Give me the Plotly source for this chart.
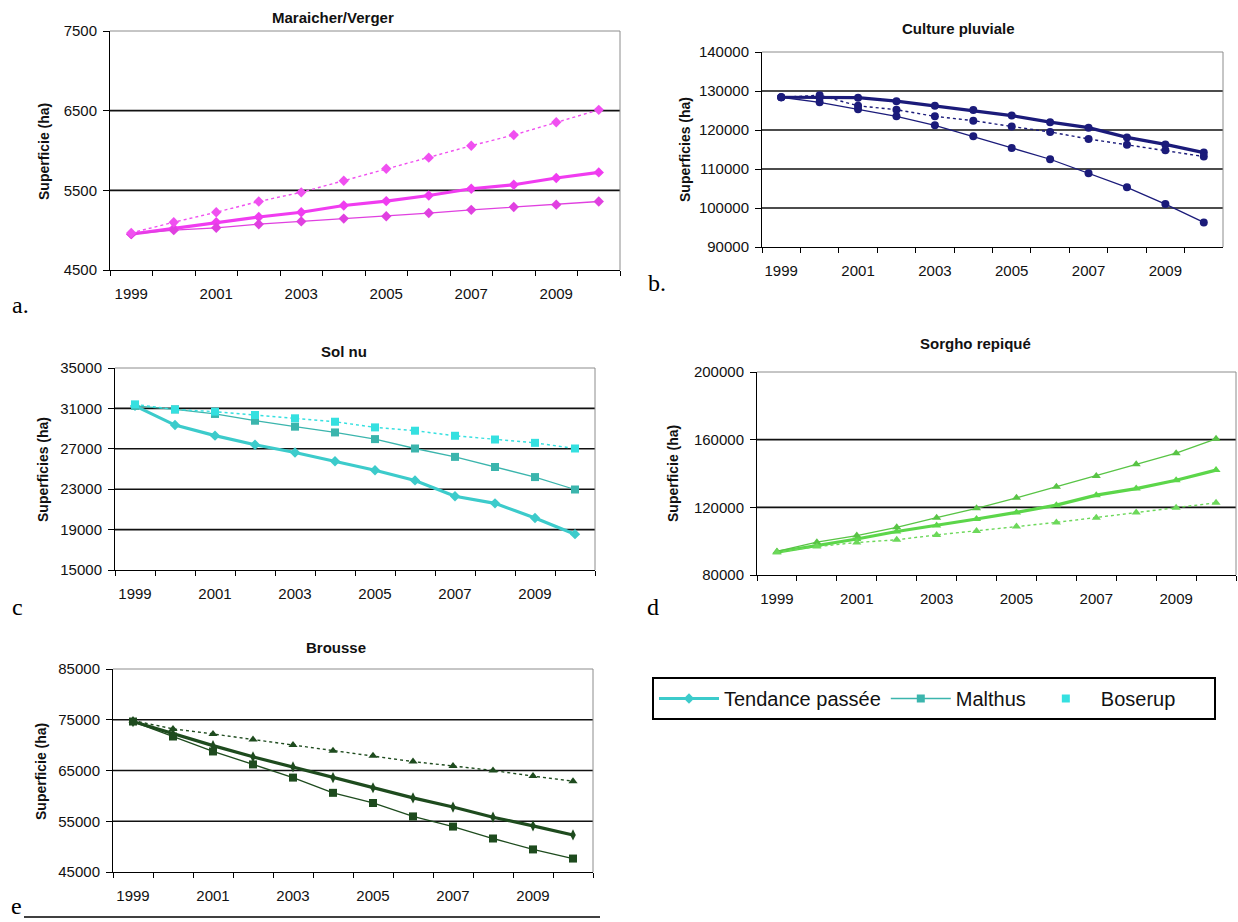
import plotly.graph_objects as go

# ---------------- data ----------------
years = ["1999", "2000", "2001", "2002", "2003", "2004", "2005", "2006", "2007", "2008", "2009", "2010"]
year_labels = ["1999", "", "2001", "", "2003", "", "2005", "", "2007", "", "2009", ""]

# a. Maraicher/Verger
a_tendance = [4950, 5020, 5100, 5165, 5225, 5310, 5365, 5435, 5520, 5570, 5655, 5725]
a_malthus = [4950, 5000, 5030, 5075, 5110, 5145, 5175, 5215, 5255, 5290, 5320, 5360]
a_boserup = [4965, 5100, 5225, 5360, 5475, 5620, 5770, 5910, 6060, 6195, 6355, 6510]

# b. Culture pluviale
b_tendance = [128400, 128300, 128300, 127400, 126200, 125100, 123700, 122000, 120600, 118100, 116300, 114200]
b_malthus = [128400, 127100, 125300, 123500, 121200, 118400, 115400, 112500, 108900, 105300, 101000, 96300]
b_boserup = [128400, 128900, 126200, 125200, 123500, 122400, 120900, 119500, 117700, 116200, 114800, 113200]

# c. Sol nu
c_tendance = [31250, 29350, 28300, 27400, 26630, 25760, 24870, 23870, 22300, 21600, 20150, 18550]
c_malthus = [31250, 30900, 30450, 29780, 29190, 28620, 27960, 27030, 26200, 25200, 24200, 22970]
c_boserup = [31400, 30900, 30680, 30350, 30020, 29680, 29120, 28790, 28290, 27920, 27590, 27030]

# d. Sorgho repiqué
d_tendance = [93500, 97400, 101300, 105700, 109200, 113100, 117000, 121300, 127200, 131100, 136000, 142000]
d_malthus = [93900, 99400, 103300, 108200, 113900, 119400, 125600, 132100, 138500, 145400, 152000, 160500]
d_boserup = [93500, 96800, 99200, 100800, 103700, 106000, 108600, 111100, 113900, 117000, 119800, 122700]

# e. Brousse
e_tendance = [74650, 72200, 69900, 67700, 65700, 63600, 61600, 59600, 57800, 55800, 54100, 52300]
e_malthus = [74650, 71700, 68750, 66200, 63600, 60600, 58600, 55950, 53950, 51600, 49450, 47650]
e_boserup = [74850, 73200, 72200, 71100, 70000, 68900, 67900, 66750, 65900, 65000, 63900, 62900]

series_names = ["Tendance passée", "Malthus", "Boserup"]

# ---------------- layout helpers ----------------
W, H = 1238, 922
FONT = "Arial"
SERIF = "Times New Roman"


def xd(x0, x1):
    return [x0 / W, x1 / W]


def yd(top, bottom):
    return [1 - bottom / H, 1 - top / H]


panels = [
    dict(key="a", title="Maraicher/Verger", ytitle="Superficie (ha)",
         data=[a_tendance, a_malthus, a_boserup],
         colors=["#F03CF0", "#E040E0", "#F050F0"],
         symbols=["diamond", "diamond", "diamond"],
         yrange=[4500, 7500], dtick=1000,
         box=(110, 620, 31, 270), title_pos=(333, 18), ytitle_pos=(44, 152),
         label="a.", label_pos=(20, 305)),
    dict(key="b", title="Culture pluviale", ytitle="Superficies (ha)",
         data=[b_tendance, b_malthus, b_boserup],
         colors=["#1B1B7A", "#1B1B7A", "#1B1B7A"],
         symbols=["circle", "circle", "circle"],
         yrange=[90000, 140000], dtick=10000,
         box=(762, 1223, 52, 247), title_pos=(958, 28), ytitle_pos=(685, 150),
         label="b.", label_pos=(657, 283)),
    dict(key="c", title="Sol nu", ytitle="Superficies (ha)",
         data=[c_tendance, c_malthus, c_boserup],
         colors=["#3CCBCB", "#3BB5AD", "#35E0E0"],
         symbols=["diamond", "square", "square"],
         yrange=[15000, 35000], dtick=4000,
         box=(115, 595, 368, 570), title_pos=(344, 351), ytitle_pos=(43, 470),
         label="c", label_pos=(17, 607)),
    dict(key="d", title="Sorgho repiqué", ytitle="Superficie (ha)",
         data=[d_tendance, d_malthus, d_boserup],
         colors=["#5CD64A", "#58C445", "#6CD85A"],
         symbols=["triangle-up", "triangle-up", "triangle-up"],
         yrange=[80000, 200000], dtick=40000,
         box=(757, 1236, 372, 575), title_pos=(975, 343), ytitle_pos=(673, 473),
         label="d", label_pos=(653, 607)),
    dict(key="e", title="Brousse", ytitle="Superficie (ha)",
         data=[e_tendance, e_malthus, e_boserup],
         colors=["#1E4B1E", "#1E4B1E", "#1E4B1E"],
         symbols=["diamond-tall", "square", "triangle-up"],
         yrange=[45000, 85000], dtick=10000,
         box=(113, 593, 669, 872), title_pos=(336, 647), ytitle_pos=(41, 772),
         label="e", label_pos=(16, 906)),
]

fig = go.Figure()
layout = dict(
    template="none",
    width=W, height=H, margin=dict(l=0, r=0, t=0, b=0, pad=0, autoexpand=False),
    paper_bgcolor="white", plot_bgcolor="white",
    font=dict(family=FONT, color="#111111"),
    showlegend=True,
    legend=dict(orientation="h", x=652 / W, y=1 - 677 / H, xanchor="left", yanchor="top",
                bordercolor="#000000", borderwidth=2, bgcolor="white",
                font=dict(size=20, family=FONT, color="#111111"),
                itemwidth=60, traceorder="normal"),
)
annotations = []
shapes = []

for i, p in enumerate(panels):
    n = "" if i == 0 else str(i + 1)
    xa, ya = "x" + n, "y" + n
    x0, x1, top, bottom = p["box"]
    widths = [3.2, 1.3, 1.3]
    for j, name in enumerate(series_names):
        col = p["colors"][j]
        is_leg = p["key"] == "c"
        if j < 2:
            fig.add_trace(go.Scatter(
                x=years, y=p["data"][j], mode="lines+markers", name=name,
                line=dict(color=col, width=widths[j]),
                marker=dict(symbol=p["symbols"][j], size=8, color=col),
                xaxis=xa, yaxis=ya, showlegend=is_leg))
        else:
            fig.add_trace(go.Scatter(
                x=years, y=p["data"][j], mode="lines", name=name,
                line=dict(color=col, width=1.4, dash="dot"),
                xaxis=xa, yaxis=ya, showlegend=False, hoverinfo="skip"))
            fig.add_trace(go.Scatter(
                x=years, y=p["data"][j], mode="markers", name=name + "      ",
                marker=dict(symbol=p["symbols"][j], size=8, color=col),
                xaxis=xa, yaxis=ya, showlegend=is_leg))

    tickvals = list(range(p["yrange"][0], p["yrange"][1] + 1, p["dtick"]))
    layout["xaxis" + n] = dict(
        domain=xd(x0, x1), anchor=ya, type="category", range=[-0.5, 11.5],
        tickvals=years, ticktext=year_labels, tickson="boundaries", tickangle=0,
        ticks="outside", ticklen=5, tickcolor="#000", tickwidth=1,
        showline=True, linecolor="#000", linewidth=1, showgrid=False, zeroline=False,
        tickfont=dict(size=15, family=FONT, color="#111"), ticklabelstandoff=10,
        automargin=False, fixedrange=True)
    layout["yaxis" + n] = dict(
        domain=yd(top, bottom), anchor=xa, range=p["yrange"],
        tickvals=tickvals, tickformat="d", ticks="outside", ticklen=6, tickcolor="#000", tickwidth=1,
        showline=True, linecolor="#000", linewidth=1, showgrid=False, zeroline=False,
        tickfont=dict(size=15, family=FONT, color="#111"), ticklabelstandoff=3,
        automargin=False, fixedrange=True)
    # horizontal gridlines at inner tick values
    for v in tickvals[1:-1]:
        shapes.append(dict(type="line", xref=xa + " domain", yref=ya, x0=0, x1=1, y0=v, y1=v,
                           line=dict(color="#111111", width=1.6), layer="below"))
    # grey plot frame (top / right)
    shapes.append(dict(type="line", xref=xa + " domain", yref=ya + " domain", x0=0, x1=1, y0=1, y1=1,
                       line=dict(color="#8C8C8C", width=1), layer="below"))
    shapes.append(dict(type="line", xref=xa + " domain", yref=ya + " domain", x0=1, x1=1, y0=0, y1=1,
                       line=dict(color="#8C8C8C", width=1), layer="below"))

    tx, ty = p["title_pos"]
    annotations.append(dict(text="<b>" + p["title"] + "</b>", x=tx / W, y=1 - ty / H,
                            xref="paper", yref="paper", showarrow=False,
                            xanchor="center", yanchor="middle",
                            font=dict(size=15, family=FONT, color="#111")))
    yx, yy = p["ytitle_pos"]
    annotations.append(dict(text="<b>" + p["ytitle"] + "</b>", x=yx / W, y=1 - yy / H,
                            xref="paper", yref="paper", showarrow=False, textangle=-90,
                            xanchor="center", yanchor="middle",
                            font=dict(size=14, family=FONT, color="#111")))
    lx, ly = p["label_pos"]
    annotations.append(dict(text=p["label"], x=lx / W, y=1 - ly / H,
                            xref="paper", yref="paper", showarrow=False,
                            xanchor="center", yanchor="middle",
                            font=dict(size=24, family=SERIF, color="#000")))

# underline after "e"
shapes.append(dict(type="line", xref="paper", yref="paper", x0=24 / W, x1=600 / W,
                   y0=1 - 917 / H, y1=1 - 917 / H, line=dict(color="#000", width=1.5)))

layout["annotations"] = annotations
layout["shapes"] = shapes
fig.update_layout(**layout)
fig.write_html("out.html", config={"displayModeBar": False},
               post_script="document.body.style.margin='0px';document.body.style.overflow='hidden';")
